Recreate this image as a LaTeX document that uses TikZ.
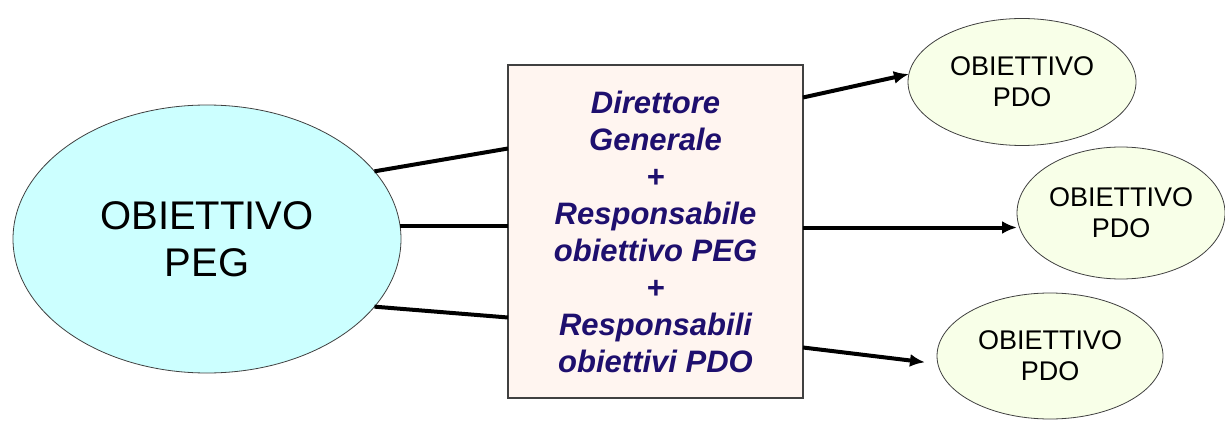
\documentclass[tikz,border=0pt]{standalone}
\usepackage{fontspec}
\setmainfont{Liberation Sans}
\usetikzlibrary{shapes.geometric,arrows.meta}
\definecolor{cccffff}{RGB}{204,255,255}
\definecolor{cf8ffe8}{RGB}{248,255,232}
\definecolor{cfff5f0}{RGB}{255,245,240}
\definecolor{c1e0f6e}{RGB}{30,15,110}
\definecolor{c404040}{RGB}{64,64,64}
\tikzset{
  pegell/.style={ellipse, draw=c404040, line width=0.8pt, fill=cccffff,
    minimum width=388, minimum height=268, align=center,
    font=\fontsize{40}{47}\selectfont},
  pdoell/.style={ellipse, draw=c404040, line width=0.8pt, fill=cf8ffe8,
    align=center, font=\fontsize{27}{31}\selectfont},
  respbox/.style={rectangle, draw=c404040, line width=1.2pt, fill=cfff5f0,
    minimum width=295, minimum height=333, align=center, text=c1e0f6e,
    font=\fontsize{31}{37}\selectfont\bfseries\itshape},
  link/.style={line width=4pt},
  linkarr/.style={line width=4pt, -{Latex[length=15pt,width=13pt]}}
}

\begin{document}
\begin{tikzpicture}[y=1pt,x=1pt,yscale=-1, inner sep=0pt, outer sep=0pt]
  \useasboundingbox (0,0) rectangle (1225,422);
  \node[pegell] (pegObj) at (207,239) {OBIETTIVO\\PEG};
  \node[respbox] (respBox) at (655.5,231.5) {Direttore\\Generale\\+\\Responsabile\\obiettivo PEG\\+\\Responsabili\\obiettivi PDO};
  \node[pdoell, minimum width=228, minimum height=127] (pdoA) at (1022,82) {OBIETTIVO\\PDO};
  \node[pdoell, minimum width=208, minimum height=132] (pdoB) at (1121,213) {OBIETTIVO\\PDO};
  \node[pdoell, minimum width=226, minimum height=126] (pdoC) at (1050,356) {OBIETTIVO\\PDO};

  % y axis points down: a negative yshift moves up
  \draw[link] (pegObj.22) -- ([yshift=-83pt]respBox.west);
  \draw[link] (pegObj.4) -- (pegObj.4 -| respBox.west);
  \draw[link] (pegObj.-22) -- ([yshift=86pt]respBox.west);

  \draw[linkarr] ([yshift=-134pt]respBox.east) -- (pdoA.176);
  \draw[linkarr] ([yshift=-4pt]respBox.east) -- ([yshift=-4pt]respBox.east -| pdoB.west);
  \draw[linkarr, shorten >=13pt] ([yshift=116pt]respBox.east) -- (pdoC.184);

\end{tikzpicture}
\end{document}
